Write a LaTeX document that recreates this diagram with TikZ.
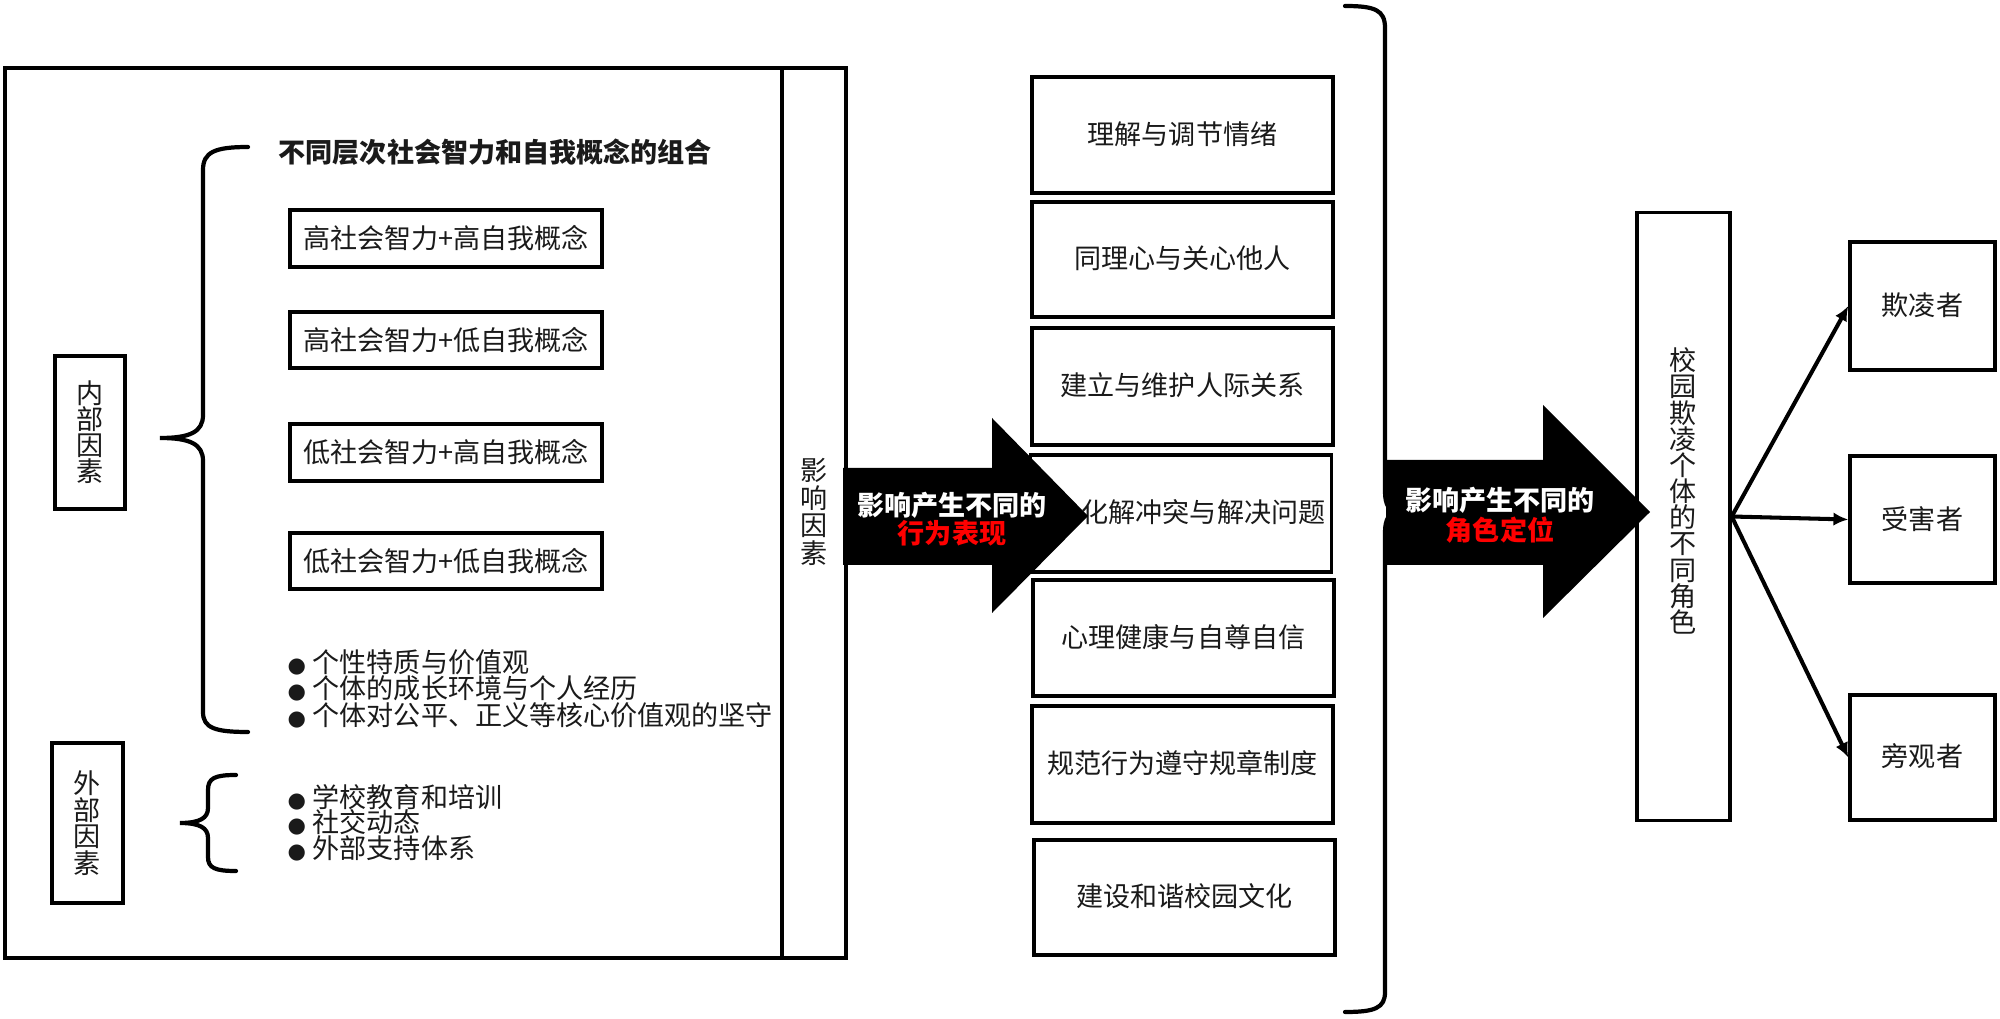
\documentclass[tikz,border=0pt]{standalone}
\usepackage{fontspec}
\setmainfont{Noto Sans CJK SC}
\newfontfamily\dejavu{DejaVu Sans}
\usetikzlibrary{arrows.meta}
\definecolor{txt}{HTML}{1A1A1A}
\definecolor{redtxt}{HTML}{FF0000}
\newcommand\bulletmark{\makebox[0.25cm][l]{\dejavu\fontsize{6pt}{6pt}\selectfont ●}}
\newcommand\upraise[1]{\raisebox{0.045cm}{#1}}
\begin{document}
\begin{tikzpicture}[x=0.01cm,y=-0.01cm,
  every node/.style={font=\fontsize{7.7pt}{7.6pt}\selectfont, text=txt, inner sep=0pt},
  box/.style={draw=black, line width=0.95pt},
  frame/.style={draw=black, line width=0.95pt},
  bracestroke/.style={draw=black, line width=1.2pt, line cap=round},
  vert/.style={align=center},
  arrowtext/.style={font=\bfseries\fontsize{7.7pt}{7.9pt}\selectfont, text=white, align=center},
  conn/.style={draw=black, line width=1.15pt, -{Latex[length=4.2pt,width=3.8pt]}}]
\useasboundingbox (0,0) rectangle (2000,1019);
\fill[white] (0,0) rectangle (2000,1019);

% ---------- left container ----------
\coordinate (otl) at (5,68);
\coordinate (obr) at (846,958);
\coordinate (dtop) at (782,68);
\coordinate (dbot) at (782,958);
\draw[frame] (otl) rectangle (obr);
\draw[frame] (dtop) -- (dbot);
\node[vert, font=\fontsize{7.7pt}{7.8pt}\selectfont] (infl) at (814,512) {影\\响\\因\\素};

% internal / external factors
\node[box, vert, minimum width=0.70cm, minimum height=1.53cm, font=\fontsize{7.7pt}{7.4pt}\selectfont] (inner) at (90,432.5) {内\\部\\因\\素};
\node[box, vert, minimum width=0.71cm, minimum height=1.60cm, font=\fontsize{7.7pt}{7.55pt}\selectfont] (outer) at (87.5,823) {外\\部\\因\\素};

% braces
\draw[bracestroke] (248,147) .. controls (215,147) and (203,152) .. (203,170) -- (203,415)
  .. controls (203,432) and (190,438) .. (160,438)
  .. controls (190,438) and (203,444) .. (203,461) -- (203,712)
  .. controls (203,728) and (215,732) .. (248,732);
\draw[bracestroke] (236,775) .. controls (215,775) and (208,778) .. (208,790) -- (208,808)
  .. controls (208,818) and (200,823) .. (180,823)
  .. controls (200,823) and (208,828) .. (208,838) -- (208,857)
  .. controls (208,868) and (215,871) .. (236,871);

\node[anchor=west, font=\bfseries\fontsize{7.7pt}{7.9pt}\selectfont] (title) at (278,152) {不同层次社会智力和自我概念的组合};

\node[box, minimum width=3.12cm, minimum height=0.57cm] (b1) at (446,238.5) {高社会智力+高自我概念};
\node[box, minimum width=3.12cm, minimum height=0.56cm] (b2) at (446,340) {高社会智力+低自我概念};
\node[box, minimum width=3.12cm, minimum height=0.57cm] (b3) at (446,452.5) {低社会智力+高自我概念};
\node[box, minimum width=3.12cm, minimum height=0.56cm] (b4) at (446,561) {低社会智力+低自我概念};

\node[anchor=west, align=left, font=\fontsize{7.7pt}{7.55pt}\selectfont] (list1) at (287,688.5)
  {\bulletmark 个性特质与价值观\\\bulletmark 个体的成长环境与个人经历\\\bulletmark 个体对公平、正义等核心价值观的坚守};
\node[anchor=west, align=left, font=\fontsize{7.7pt}{7.3pt}\selectfont] (list2) at (287,822.5)
  {\bulletmark 学校教育和培训\\\bulletmark 社交动态\\\bulletmark 外部支持体系};

% ---------- middle column ----------
\node[box, minimum width=3.01cm, minimum height=1.16cm] (m1) at (1182.5,135) {\upraise{理解与调节情绪}};
\node[box, minimum width=3.01cm, minimum height=1.15cm] (m2) at (1182.5,259.5) {\upraise{同理心与关心他人}};
\node[box, minimum width=3.01cm, minimum height=1.17cm] (m3) at (1182.5,386.5) {\upraise{建立与维护人际关系}};
\node[box, minimum width=3.01cm, minimum height=1.17cm] (m4) at (1181,513.5) {\hspace*{0.45cm}\upraise{化解冲突与解决问题}};
\node[box, minimum width=3.01cm, minimum height=1.16cm] (m5) at (1183.5,638) {\upraise{心理健康与自尊自信}};
\node[box, minimum width=3.01cm, minimum height=1.17cm] (m6) at (1182.5,764.5) {\upraise{规范行为遵守规章制度}};
\node[box, minimum width=3.01cm, minimum height=1.15cm] (m7) at (1184.5,897.5) {\upraise{建设和谐校园文化}};

% big arrow 1
\fill[black] (843,468) -- (992,468) -- (992,418) -- (1088,516) -- (992,613) -- (992,565) -- (843,565) -- cycle;
\node[arrowtext] (a1t) at (952,519) {影响产生不同的\\\textcolor{redtxt}{行为表现}};

% right bracket
\draw[bracestroke] (1345,6) .. controls (1375,6) and (1385,10) .. (1385,28) -- (1385,492)
  .. controls (1385,505) and (1390,512) .. (1396,512)
  .. controls (1390,512) and (1385,519) .. (1385,532) -- (1385,992)
  .. controls (1385,1008) and (1375,1012) .. (1345,1012);

% ---------- roles ----------
\node[box, minimum width=0.93cm, minimum height=6.07cm] (rc) at (1683.5,516.5) {};
\node[vert, font=\fontsize{7.7pt}{7.45pt}\selectfont] (rctext) at (1683.5,491) {校\\园\\欺\\凌\\个\\体\\的\\不\\同\\角\\色};

% big arrow 2
\fill[black] (1386,460) -- (1543,460) -- (1543,405) -- (1650,512) -- (1543,618) -- (1543,565) -- (1386,565) -- cycle;
\node[arrowtext, font=\bfseries\fontsize{7.7pt}{7.5pt}\selectfont] (a2t) at (1500,515) {影响产生不同的\\\textcolor{redtxt}{角色定位}};

\node[box, minimum width=1.45cm, minimum height=1.28cm] (r1) at (1922.5,306) {\upraise{欺凌者}};
\node[box, minimum width=1.45cm, minimum height=1.27cm] (r2) at (1922.5,519.5) {受害者};
\node[box, minimum width=1.45cm, minimum height=1.25cm] (r3) at (1922.5,757.5) {\upraise{旁观者}};

\draw[conn] (rc.east) -- (r1.west);
\draw[conn] (rc.east) -- (r2.west);
\draw[conn] (rc.east) -- (r3.west);
\end{tikzpicture}
\end{document}
